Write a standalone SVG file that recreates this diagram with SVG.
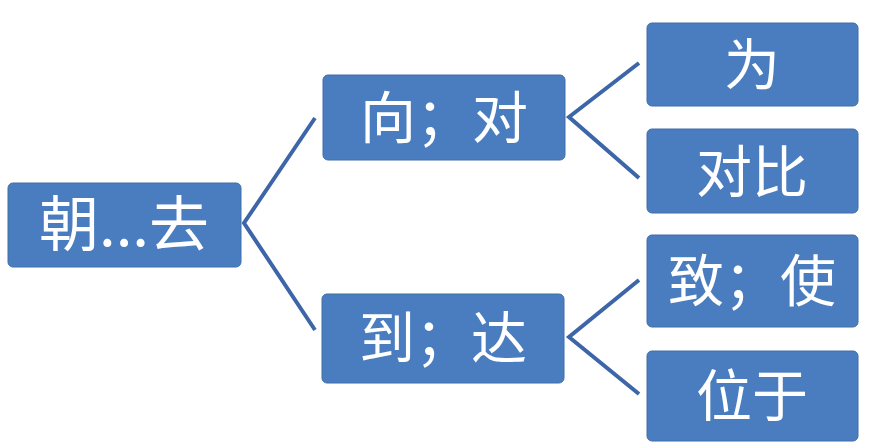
<svg xmlns="http://www.w3.org/2000/svg" width="870" height="446" viewBox="0 0 870 446">
<style>
.box{fill:#4a7dbf;stroke:#3f6fa8;stroke-width:1}
.lbl{fill:#ffffff;font-family:"Noto Sans CJK SC","Noto Sans",sans-serif;font-size:56px;text-anchor:middle}
.conn{fill:none;stroke:#3d66a8;stroke-width:4;stroke-linejoin:miter}
</style>
<rect width="870" height="446" fill="#ffffff"/>
<g id="connectors">
<polyline class="conn" points="315,118 244,223 315,330"/>
<polyline class="conn" points="639,63 569,117 639,178"/>
<polyline class="conn" points="639,280 569,337 639,394"/>
</g>
<g id="root">
<rect class="box" x="8" y="183" width="233" height="84" rx="5"/>
<text class="lbl" x="124" y="246" style="font-size:60px">朝...去</text>
</g>
<g id="xiang-dui">
<rect class="box" x="323" y="75" width="242" height="85" rx="5"/>
<text class="lbl" x="444" y="138">向；对</text>
</g>
<g id="dao-da">
<rect class="box" x="322" y="294" width="242" height="89" rx="5"/>
<text class="lbl" x="443" y="358">到；达</text>
</g>
<g id="wei">
<rect class="box" x="647" y="23" width="211" height="83" rx="5"/>
<text class="lbl" x="752" y="85">为</text>
</g>
<g id="duibi">
<rect class="box" x="647" y="129" width="211" height="84" rx="5"/>
<text class="lbl" x="752" y="192">对比</text>
</g>
<g id="zhi-shi">
<rect class="box" x="647" y="235" width="211" height="92" rx="5"/>
<text class="lbl" x="752" y="301">致；使</text>
</g>
<g id="weiyu">
<rect class="box" x="647" y="351" width="211" height="90" rx="5"/>
<text class="lbl" x="752" y="416">位于</text>
</g>
</svg>
